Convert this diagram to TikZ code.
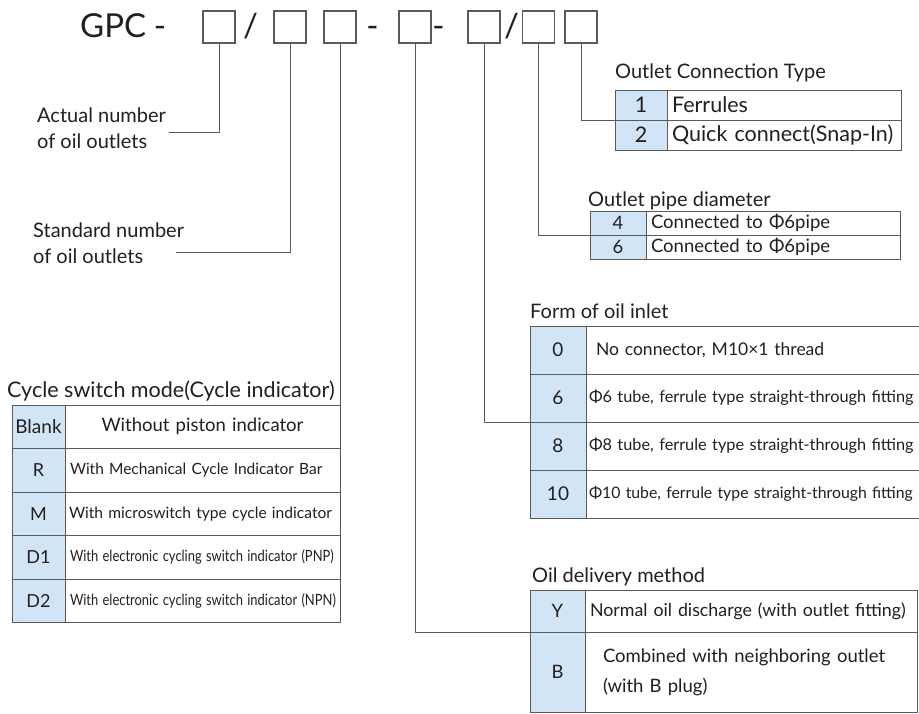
\documentclass[tikz,border=0pt]{standalone}
\usepackage{fontspec}
\setmainfont{Lato}
\usetikzlibrary{positioning}
\definecolor{ink}{HTML}{231F20}
\definecolor{rulegray}{HTML}{5A5A5A}
\definecolor{cellblue}{HTML}{D2E5F6}
\tikzset{slot/.style={draw=rulegray,line width=1.2pt,minimum width=32pt,minimum height=32pt,inner sep=0pt},code/.style={font=\fontsize{33}{36}\selectfont,text=ink,inner sep=0pt},title/.style={font=\fontsize{20}{24}\selectfont,text=ink,inner sep=0pt,anchor=base west},partlabel/.style={font=\fontsize{20}{26}\selectfont,text=ink,align=left,inner sep=0pt,anchor=base west},numcell/.style={draw=rulegray,line width=1pt,fill=cellblue,inner sep=0pt,outer sep=0pt,text=ink},desccell/.style={draw=rulegray,line width=1pt,fill=white,inner xsep=5pt,inner ysep=0pt,outer sep=0pt,align=left,text=ink},lead/.style={draw=rulegray,line width=1pt}}

\begin{document}
\begin{tikzpicture}[x=1pt,y=-1pt,connrow/.style={minimum height=30pt,font=\fontsize{21.5}{24}\selectfont},piperow/.style={minimum height=24pt,font=\fontsize{18.5}{21}\selectfont},inletrow/.style={minimum height=48pt,font=\fontsize{16.3}{20}\selectfont},cyclerow/.style={minimum height=43.5pt,font=\fontsize{15.5}{19}\selectfont},delivrow/.style={font=\fontsize{18.5}{30}\selectfont}]
\useasboundingbox (0,0) rectangle (919,713);
\clip (0,0) rectangle (919,713);
% model code
\node[code,anchor=base west] (gpc) at (80,37) {GPC};
\node[code,anchor=base] (dash1) at (160,37) {-};
\node[slot] (s1) at (219,27) {};
\node[code,anchor=base] (sl1) at (250.5,37) {/};
\node[slot] (s2) at (290,27) {};
\node[slot] (s3) at (340,27) {};
\node[code,anchor=base] (dash2) at (372.5,37) {-};
\node[slot] (s4) at (415,27) {};
\node[code,anchor=base] (dash3) at (438.5,37) {-};
\node[slot] (s5) at (484,27) {};
\node[code,anchor=base] (sl2) at (511.5,37) {/};
\node[slot] (s6) at (538.5,27) {};
\node[slot] (s7) at (581,27) {};
% outlet counts
\node[partlabel] (act) at (37,148) {Actual number\\of oil outlets};
\node[partlabel] (std) at (33,263) {Standard number\\of oil outlets};
\coordinate (actend) at (169,132);
\coordinate (stdend) at (176,252);
% outlet connection type
\node[title] (contitle) at (615,78) {Outlet Connection Type};
\node[numcell,connrow,minimum width=52pt,anchor=north west] (con1) at (615,90) {1};
\node[desccell,connrow,text width=224pt,right=0pt of con1] (con1d) {Ferrules};
\node[numcell,connrow,minimum width=52pt,below=0pt of con1] (con2) {2};
\node[desccell,connrow,text width=224pt,right=0pt of con2] (con2d) {Quick connect(Snap-In)};
% outlet pipe diameter
\node[title] (pipetitle) at (588,206) {Outlet pipe diameter};
\node[numcell,piperow,minimum width=56pt,anchor=north west] (pipe1) at (590,211) {4};
\node[desccell,piperow,text width=244pt,right=0pt of pipe1] (pipe1d) {Connected to Φ6pipe};
\node[numcell,piperow,minimum width=56pt,below=0pt of pipe1] (pipe2) {6};
\node[desccell,piperow,text width=244pt,right=0pt of pipe2] (pipe2d) {Connected to Φ6pipe};
% form of oil inlet
\node[title] (inlettitle) at (530,318) {Form of oil inlet};
\node[numcell,inletrow,minimum width=56pt,anchor=north west,font=\fontsize{19}{22}\selectfont] (inlet1) at (530,326) {0};
\node[desccell,inletrow,text width=324pt,inner xsep=10pt,font=\fontsize{17.5}{20}\selectfont,right=0pt of inlet1] (inlet1d) {No connector, M10×1 thread};
\node[numcell,inletrow,minimum width=56pt,below=0pt of inlet1,font=\fontsize{19}{22}\selectfont] (inlet2) {6};
\node[desccell,inletrow,text width=338pt,inner xsep=3pt,right=0pt of inlet2] (inlet2d) {Φ6 tube, ferrule type straight-through fitting};
\node[numcell,inletrow,minimum width=56pt,below=0pt of inlet2,font=\fontsize{19}{22}\selectfont] (inlet3) {8};
\node[desccell,inletrow,text width=338pt,inner xsep=3pt,right=0pt of inlet3] (inlet3d) {Φ8 tube, ferrule type straight-through fitting};
\node[numcell,inletrow,minimum width=56pt,below=0pt of inlet3,font=\fontsize{19}{22}\selectfont] (inlet4) {10};
\node[desccell,inletrow,text width=338pt,inner xsep=3pt,font=\fontsize{15.8}{20}\selectfont,right=0pt of inlet4] (inlet4d) {Φ10 tube, ferrule type straight-through fitting};
% cycle switch mode
\node[title,font=\fontsize{21.5}{24}\selectfont] (cyctitle) at (7,397) {Cycle switch mode(Cycle indicator)};
\node[numcell,cyclerow,minimum width=53pt,anchor=north west,font=\fontsize{19}{22}\selectfont] (cyc1) at (12,405) {Blank};
\node[desccell,cyclerow,text width=265pt,align=center,right=0pt of cyc1,font=\fontsize{18.5}{22}\selectfont] (cyc1d) {Without piston indicator};
\node[numcell,cyclerow,minimum width=53pt,below=0pt of cyc1,font=\fontsize{18}{22}\selectfont] (cyc2) {R};
\node[desccell,cyclerow,text width=265pt,right=0pt of cyc2] (cyc2d) {With Mechanical Cycle Indicator Bar};
\node[numcell,cyclerow,minimum width=53pt,below=0pt of cyc2,font=\fontsize{18}{22}\selectfont] (cyc3) {M};
\node[desccell,cyclerow,text width=267pt,inner xsep=4pt,right=0pt of cyc3,font=\fontsize{15.6}{19}\selectfont] (cyc3d) {With microswitch type cycle indicator};
\node[numcell,cyclerow,minimum width=53pt,below=0pt of cyc3,font=\fontsize{18}{22}\selectfont] (cyc4) {D1};
\node[desccell,cyclerow,text width=265pt,right=0pt of cyc4] (cyc4d) {\scalebox{0.835}[1]{With electronic cycling switch indicator (PNP)}};
\node[numcell,cyclerow,minimum width=53pt,below=0pt of cyc4,font=\fontsize{18}{22}\selectfont] (cyc5) {D2};
\node[desccell,cyclerow,text width=265pt,right=0pt of cyc5] (cyc5d) {\scalebox{0.835}[1]{With electronic cycling switch indicator (NPN)}};
% oil delivery method
\node[title] (delivtitle) at (532,582) {Oil delivery method};
\node[numcell,delivrow,minimum width=55pt,minimum height=42pt,anchor=north west] (deliv1) at (530,590) {Y};
\node[desccell,delivrow,text width=322pt,minimum height=42pt,font=\fontsize{17.8}{20}\selectfont,right=0pt of deliv1] (deliv1d) {Normal oil discharge (with outlet fitting)};
\node[numcell,delivrow,minimum width=55pt,minimum height=80pt,below=0pt of deliv1] (deliv2) {B};
\node[desccell,delivrow,text width=296pt,inner xsep=18pt,minimum height=80pt,right=0pt of deliv2] (deliv2d) {Combined with neighboring outlet\\(with B plug)};
% leaders
\draw[lead] (s1.south) |- (actend);
\draw[lead] (s2.south) |- (stdend);
\draw[lead] (s3.south) -- (cyc1d.north east);
\draw[lead] (s4.south) |- (deliv2.north west);
\draw[lead] (s5.south) |- (inlet2.south west);
\draw[lead] (s6.south) |- (pipe1.south west);
\draw[lead] (s7.south) |- (con1.south west);
\end{tikzpicture}
\end{document}
